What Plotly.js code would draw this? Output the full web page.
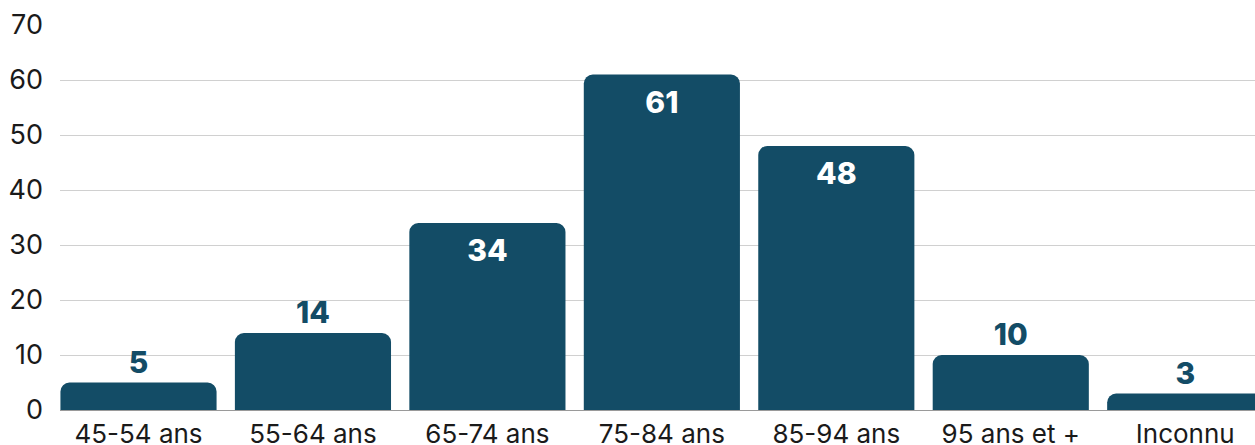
<!DOCTYPE html>
<html><head><meta charset="utf-8">
<script src="https://cdn.plot.ly/plotly-3.0.1.min.js"></script>
<style>html,body{margin:0;padding:0;background:#fff}#chart{width:1255px;height:445px}</style>
</head><body><div id="chart"></div>
<script>
const categories = ["45-54 ans","55-64 ans","65-74 ans","75-84 ans","85-94 ans","95 ans et +","Inconnu"];
const values = [5,14,34,61,48,10,3];

const barColor = "#134C66";
const font = "Inter, 'Noto Sans', sans-serif";
const positions = values.map(v => v >= 30 ? "inside" : "outside");
const textColors = values.map(v => v >= 30 ? "#ffffff" : barColor);

const trace = {
  type: "bar",
  x: categories,
  y: values,
  text: values.map(String),
  textposition: positions,
  insidetextanchor: "end",
  textfont: {family: font, size: 30, color: textColors, weight: 800},
  marker: {color: barColor, cornerradius: 9},
  width: 0.895,
  cliponaxis: false,
  hoverinfo: "skip"
};

const layout = {
  width: 1255, height: 445,
  margin: {l: 60, r: 0, t: 25, b: 35},
  paper_bgcolor: "#fff", plot_bgcolor: "#fff",
  showlegend: false,
  font: {family: font, color: "#1a1a1a", size: 26},
  xaxis: {
    type: "category",
    range: [-0.45, 6.4],
    showgrid: false,
    showline: true, linecolor: "#9a9a9a", linewidth: 1,
    ticks: "", tickfont: {size: 26, color: "#1a1a1a"},
    ticklabelstandoff: 1
  },
  yaxis: {
    range: [0, 70], dtick: 10,
    showgrid: true, gridcolor: "#d0d0d0", gridwidth: 1,
    zeroline: false, showline: false,
    ticks: "", tickfont: {size: 27, color: "#1a1a1a"},
    ticklabelstandoff: 16
  }
};

Plotly.newPlot("chart", [trace], layout, {staticPlot: true, displayModeBar: false});
</script></body></html>
